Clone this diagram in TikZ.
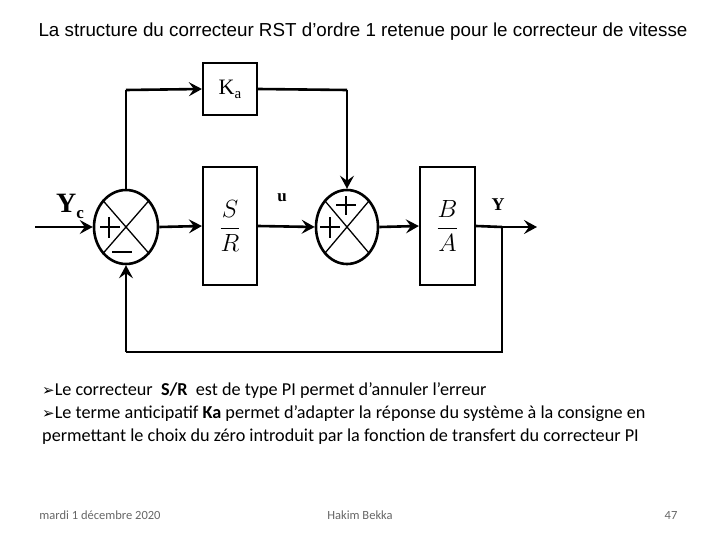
\documentclass[tikz,border=0pt]{standalone}
\usepackage{fontspec}
\setmainfont{Liberation Serif}
\newfontfamily\arialf{Liberation Sans}
\newfontfamily\calf{Carlito}
\usetikzlibrary{arrows.meta,shapes.geometric}
\begin{document}
\begin{tikzpicture}[x=1pt,y=-1pt,
  blk/.style={draw,line width=2.2pt,inner sep=0pt},
  wire/.style={line width=2.6pt},
  arr/.style={wire,-{Stealth[length=13pt,width=14pt,inset=5pt]}},
  txt/.style={font=\calf\fontsize{18.2}{21}\selectfont,anchor=west,inner sep=0pt},
  foot/.style={font=\calf\fontsize{12.5}{14}\selectfont,text=black!60,inner sep=0pt}]
\useasboundingbox (0,0) rectangle (720,540);
\node[font=\arialf\fontsize{18.8}{22}\selectfont,inner sep=0pt] (title) at (363,32) {La structure du correcteur RST d’ordre 1 retenue pour le correcteur de vitesse};
% blocks
\node[blk,minimum width=54pt,minimum height=52pt] (ka) at (230,89) {\fontsize{22}{24}\selectfont K\raisebox{-4pt}{\fontsize{15}{16}\selectfont a}};
\node[blk,minimum width=54pt,minimum height=118pt] (sr) at (230,226) {\fontsize{30}{34}\selectfont$\displaystyle\frac{S}{R}$};
\node[blk,minimum width=55pt,minimum height=118pt] (ba) at (447.5,226) {\fontsize{30}{34}\selectfont$\displaystyle\frac{B}{A}$};
\node[draw,line width=2.6pt,ellipse,minimum width=64pt,minimum height=74pt,inner sep=0pt] (s1) at (126,227) {};
\node[draw,line width=2.6pt,ellipse,minimum width=62pt,minimum height=74pt,inner sep=0pt] (s2) at (347,227) {};
\draw[line width=1.3pt] (s1.north west) -- (s1.south east) (s1.north east) -- (s1.south west);
\draw[line width=1.3pt] (s2.north west) -- (s2.south east) (s2.north east) -- (s2.south west);
% signs
\draw[line width=1.5pt] (100,227) -- (120,227) (109,217) -- (109,238);
\draw[line width=1.5pt] (112,252) -- (132,252);
\draw[line width=1.5pt] (336,205) -- (356,205) (346,196) -- (346,215);
\draw[line width=1.5pt] (320,227) -- (340,227) (330,217) -- (330,238);
% coordinates
\coordinate (in) at (35,227);
\coordinate (br) at (502,227);
\coordinate (out) at (537,227);
\coordinate (fb) at (502,352);
\coordinate (tl) at (126,90);
\coordinate (tr) at (347,90);
% connectors
\draw[arr] (in) -- (s1.west);
\draw[arr] (s1.east) -- (sr.west);
\draw[arr] (sr.east) -- (s2.west);
\draw[arr] (s2.east) -- (ba.west);
\draw[wire] (ba.east) -- (br);
\draw[arr] (br) -- (out);
\draw[wire] (s1.north) -- (tl);
\draw[arr] (tl) -- (ka.west);
\draw[wire] (ka.east) -- (tr);
\draw[arr] (tr) -- (s2.north);
\draw[wire] (br) -- (fb) -- (126,352);
\draw[arr] (126,352) -- (s1.south);
% labels
\node[font=\bfseries\fontsize{28}{30}\selectfont] (yc) at (70,206) {Y\raisebox{-6pt}{\fontsize{17}{18}\selectfont c}};
\node[font=\bfseries\fontsize{17}{19}\selectfont] (u) at (282,198) {u};
\node[font=\bfseries\fontsize{18}{20}\selectfont] (y) at (498,205) {Y};
% text
\node[txt] (b1) at (42,391) {{\fontspec{DejaVu Sans}\fontsize{15}{18}\selectfont ➢}Le correcteur\ \ \textbf{S/R}\ \ est de type PI permet d’annuler l’erreur};
\node[txt] (b2) at (42,414) {{\fontspec{DejaVu Sans}\fontsize{15}{18}\selectfont ➢}Le terme anticipatif \textbf{Ka} permet d’adapter la réponse du système à la consigne en};
\node[txt] (b3) at (42,437) {permettant le choix du zéro introduit par la fonction de transfert du correcteur PI};
\node[foot] (f1) at (100,515) {mardi 1 décembre 2020};
\node[foot] (f2) at (360,515) {Hakim Bekka};
\node[foot] (f3) at (671,515) {47};
\end{tikzpicture}
\end{document}
